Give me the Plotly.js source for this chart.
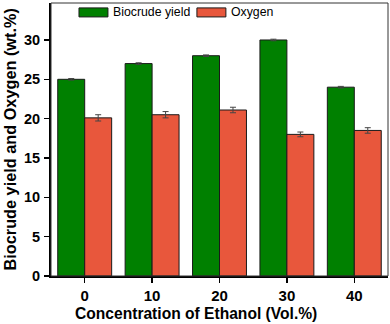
<!DOCTYPE html>
<html><head><meta charset="utf-8">
<script src="https://cdn.plot.ly/plotly-3.0.1.min.js"></script>
<style>html,body{margin:0;padding:0;background:#fff}#plot{width:390px;height:324px}</style>
</head><body><div id="plot"></div>
<script>
const categories = ["0", "10", "20", "30", "40"];
const biocrude = [25.0, 27.0, 28.0, 30.0, 24.0];
const biocrudeErr = [0.1, 0.1, 0.1, 0.1, 0.1];
const oxygen = [20.1, 20.5, 21.1, 18.0, 18.5];
const oxygenErr = [0.4, 0.4, 0.35, 0.3, 0.35];
const seriesNames = ["Biocrude yield", "Oxygen"];
const xTitle = "Concentration of Ethanol (Vol.%)";
const yTitle = "Biocrude yield and Oxygen (wt.%)";
const green = "#008000", orange = "#e8573c";

const traces = [
  {type:"bar", x:categories, y:biocrude, name:seriesNames[0], showlegend:false,
   marker:{color:green, line:{color:"#1a1a1a", width:1}},
   error_y:{type:"data", array:biocrudeErr, visible:true, color:"#444", thickness:1, width:3}},
  {type:"bar", x:categories, y:oxygen, name:seriesNames[1], showlegend:false,
   marker:{color:orange, line:{color:"#1a1a1a", width:1}},
   error_y:{type:"data", array:oxygenErr, visible:true, color:"#444", thickness:1, width:3}}
];

const font = "Liberation Sans, Arial, sans-serif";
const layout = {
  width:390, height:324,
  margin:{l:51, r:2, t:3, b:48},
  paper_bgcolor:"#fff", plot_bgcolor:"#fff",
  barmode:"group", bargap:0.2, bargroupgap:0,
  font:{family:font, color:"#000"},
  xaxis:{type:"category", range:[-0.5,4.5], showline:true, linewidth:2, linecolor:"#000",
    ticks:"outside", ticklen:5, tickwidth:1.5, tickcolor:"#000",
    tickfont:{size:15, family:font, weight:"bold"}, showgrid:false, zeroline:false},
  yaxis:{range:[0,34.7], tickvals:[0,5,10,15,20,25,30], showline:true, linewidth:2, linecolor:"#000",
    ticks:"outside", ticklen:5, tickwidth:1.5, tickcolor:"#000", ticklabelstandoff:1,
    tickfont:{size:14.5, family:font, weight:"bold"}, showgrid:false, zeroline:false},
  shapes:[
    {type:"rect", xref:"paper", yref:"paper", x0:0, x1:1, y0:0, y1:1, line:{color:"#333", width:1}},
    {type:"rect", xref:"paper", yref:"paper", x0:0.083, x1:0.169, y0:0.949, y1:0.982, fillcolor:green, line:{color:"#1a1a1a", width:1}},
    {type:"rect", xref:"paper", yref:"paper", x0:0.433, x1:0.519, y0:0.949, y1:0.982, fillcolor:orange, line:{color:"#1a1a1a", width:1}}
  ],
  annotations:[
    {xref:"paper", yref:"paper", x:0.178, y:0.966, xanchor:"left", yanchor:"middle", showarrow:false,
     text:seriesNames[0], font:{size:12.3, family:font, color:"#000"}},
    {xref:"paper", yref:"paper", x:0.528, y:0.966, xanchor:"left", yanchor:"middle", showarrow:false,
     text:seriesNames[1], font:{size:12.3, family:font, color:"#000"}},
    {xref:"paper", yref:"paper", x:0.430, y:-0.139, xanchor:"center", yanchor:"middle", showarrow:false,
     text:xTitle, font:{size:15.6, family:font, color:"#000", weight:"bold"}},
    {xref:"paper", yref:"paper", x:-0.1217, y:0.5, xanchor:"center", yanchor:"middle", showarrow:false,
     textangle:-90, text:yTitle, font:{size:16.3, family:font, color:"#000", weight:"bold"}}
  ]
};
Plotly.newPlot("plot", traces, layout, {displayModeBar:false, staticPlot:true});
</script></body></html>
